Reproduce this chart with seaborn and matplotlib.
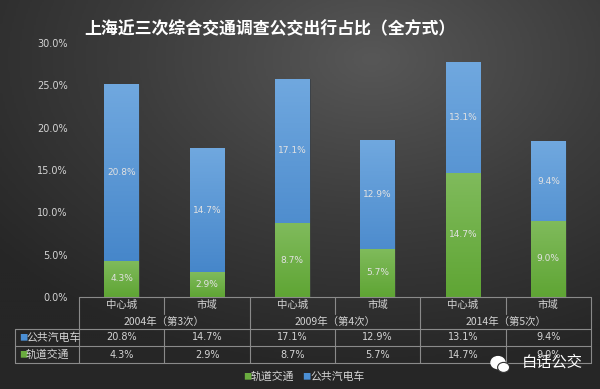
import numpy as np
import pandas as pd
import matplotlib.pyplot as plt
import matplotlib.colors as mcolors
from matplotlib.patches import Ellipse
import seaborn as sns

# data (percent)
years = ['2004年（第3次）', '2009年（第4次）', '2014年（第5次）']
areas = ['中心城', '市域']
bus = [20.8, 14.7, 17.1, 12.9, 13.1, 9.4]
rail = [4.3, 2.9, 8.7, 5.7, 14.7, 9.0]

keys = [f'{y}-{a}' for y in years for a in areas]
df = pd.DataFrame({'key': keys, 'bus': bus, 'rail': rail})
df['total'] = df['bus'] + df['rail']

sns.set_theme(style='dark')
plt.rcParams['font.family'] = ['Noto Sans CJK SC', 'DejaVu Sans']

BLUE = '#4b8fd5'
GREEN = '#6aac3f'
TXT = '#d4d4d4'
LINE = '#8a8a8a'

fig = plt.figure(figsize=(6, 3.89), dpi=100)

# dark gradient background
bg = fig.add_axes([0, 0, 1, 1], zorder=-10)
xx, yy = np.meshgrid(np.linspace(0, 1, 300), np.linspace(0, 1, 200))
r = np.sqrt(((xx - 0.62) / 0.9) ** 2 + ((yy - 0.15) / 0.9) ** 2)
bg_cmap = mcolors.LinearSegmentedColormap.from_list('bg', ['#575757', '#3c3c3c', '#262626'])
bg.imshow(r, cmap=bg_cmap, aspect='auto', extent=[0, 1, 0, 1], origin='upper', vmin=0, vmax=0.9)
bg.axis('off')

ax = fig.add_axes([79 / 600, 1 - 297 / 389, 512 / 600, 254 / 389])
ax.patch.set_alpha(0)

sns.barplot(data=df, x='key', y='total', color=BLUE, width=0.41, saturation=1, ax=ax)
sns.barplot(data=df, x='key', y='rail', color=GREEN, width=0.41, saturation=1, ax=ax)

# vertical gradient fill inside each bar
grad_b = mcolors.LinearSegmentedColormap.from_list('gb', ['#3e80c6', '#70a8df'])
grad_g = mcolors.LinearSegmentedColormap.from_list('gg', ['#5fa534', '#80bb5c'])
n = len(df)
for i, p in enumerate(ax.patches):
    cmap = grad_b if i < n else grad_g
    x0, y0, w, h = p.get_x(), p.get_y(), p.get_width(), p.get_height()
    im = ax.imshow(np.linspace(0, 1, 100).reshape(-1, 1), cmap=cmap, origin='lower',
                   extent=[x0, x0 + w, y0, y0 + h], aspect='auto', zorder=p.get_zorder())
    im.set_clip_path(p)
    p.set_edgecolor('#3a3a3a')
    p.set_linewidth(0.6)

ax.set_xlim(-0.5, n - 0.5)
ax.set_ylim(0, 30)
ax.set_yticks(np.arange(0, 31, 5))
ax.set_yticklabels([f'{v:.1f}%' for v in np.arange(0, 31, 5)], color=TXT, fontsize=7,
                   family=['DejaVu Sans'])
ax.tick_params(axis='y', pad=8, length=0)
ax.set_xticks([])
ax.set_xlabel('')
ax.set_ylabel('')
ax.grid(False)
for s in ax.spines.values():
    s.set_visible(False)

# value labels inside segments
for i in range(n):
    ax.text(i, rail[i] + bus[i] / 2, f'{bus[i]:.1f}%', ha='center', va='center',
            color='#e2e2e2', fontsize=6.5, family=['DejaVu Sans'])
    ax.text(i, rail[i] / 2, f'{rail[i]:.1f}%', ha='center', va='center',
            color='#e2e2e2', fontsize=6.5, family=['DejaVu Sans'])

# data table under the axis
tr = ax.get_xaxis_transform()
px = 1 / 254  # one pixel in axes fraction
row_y = [0, -32 * px, -49 * px, -66 * px]
left = -0.5 - 64 / (512 / n)
lk = dict(color=LINE, lw=0.8, transform=tr, clip_on=False)
ax.plot([-0.5, n - 0.5], [row_y[0]] * 2, **lk)
for yv in row_y[1:]:
    ax.plot([left, n - 0.5], [yv] * 2, **lk)
ax.plot([left, left], [row_y[1], row_y[3]], **lk)
for g in range(len(years) + 1):
    xb = -0.5 + 2 * g
    ax.plot([xb, xb], [row_y[0], row_y[3]], **lk)
for g in range(len(years)):
    xb = 0.5 + 2 * g
    ax.plot([xb, xb], [row_y[0], -17 * px], **lk)
    ax.plot([xb, xb], [row_y[1], row_y[3]], **lk)
    ax.text(2 * g + 0.5, -24.5 * px, years[g], transform=tr, ha='center', va='center',
            color=TXT, fontsize=7.5)
for i in range(n):
    ax.text(i, -8 * px, areas[i % 2], transform=tr, ha='center', va='center',
            color=TXT, fontsize=7.5)
    ax.text(i, -40.5 * px, f'{bus[i]:.1f}%', transform=tr, ha='center', va='center',
            color=TXT, fontsize=7, family=['DejaVu Sans'])
    ax.text(i, -57.5 * px, f'{rail[i]:.1f}%', transform=tr, ha='center', va='center',
            color=TXT, fontsize=7, family=['DejaVu Sans'])
ax.text(left + 0.05, -40.5 * px, '■', transform=tr, ha='left', va='center', color=BLUE, fontsize=6)
ax.text(left + 0.13, -40.5 * px, '公共汽电车', transform=tr, ha='left', va='center', color=TXT, fontsize=7.8)
ax.text(left + 0.05, -57.5 * px, '■', transform=tr, ha='left', va='center', color=GREEN, fontsize=6)
ax.text(left + 0.13, -57.5 * px, '轨道交通', transform=tr, ha='left', va='center', color=TXT, fontsize=7.8)

# legend
fig.text(243 / 600, 1 - 377 / 389, '■', color=GREEN, fontsize=6, ha='left', va='center')
fig.text(251 / 600, 1 - 377 / 389, '轨道交通', color=TXT, fontsize=7.8, ha='left', va='center')
fig.text(302 / 600, 1 - 377 / 389, '■', color=BLUE, fontsize=6, ha='left', va='center')
fig.text(310 / 600, 1 - 377 / 389, '公共汽电车', color=TXT, fontsize=7.8, ha='left', va='center')

# title
fig.text(270 / 600, 1 - 29 / 389, '上海近三次综合交通调查公交出行占比（全方式）',
         color='white', fontsize=12.2, fontweight='bold', ha='center', va='center')

# watermark
wm = fig.add_axes([490 / 600, 1 - 375 / 389, 20 / 600, 20 / 389])
wm.set_xlim(0, 1)
wm.set_ylim(0, 1)
wm.axis('off')
wm.add_patch(Ellipse((0.4, 0.62), 0.7, 0.6, color='white'))
wm.add_patch(Ellipse((0.68, 0.38), 0.6, 0.5, color='white', ec='#333333', lw=0.8))
fig.text(522 / 600, 1 - 362 / 389, '白话公交', color='white', fontsize=11, ha='left', va='center')

fig.savefig('out.png', dpi=100)
